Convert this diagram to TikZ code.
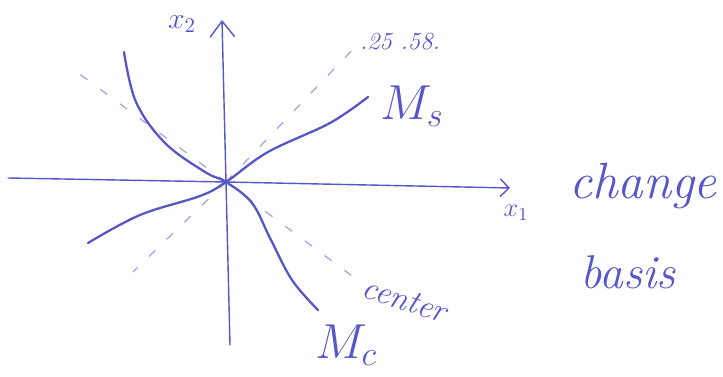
\documentclass[tikz,border=0pt]{standalone}
\usepackage{fix-cm}
\usepackage{tikz}
\usetikzlibrary{arrows.meta}
\definecolor{inkblue}{HTML}{5656C8}

\begin{document}
\begin{tikzpicture}[
    x=0.02cm, y=-0.02cm,
    pen/.style={draw=inkblue, line width=1.3pt, line cap=round, line join=round},
    axis/.style={draw=inkblue, line width=0.8pt, line cap=round},
    guide/.style={draw=inkblue!55, line width=0.7pt, dash pattern=on 5pt off 9pt},
    hand/.style={text=inkblue, inner sep=0pt, font=\fontsize{#1}{#1}\selectfont\itshape},
    hand/.default=20
]
    \useasboundingbox (0,0) rectangle (723,377);

    % --- Axes ---
    \coordinate (O) at (226,182);
    \coordinate (xleft) at (8,178);
    \coordinate (xright) at (510,188);
    \coordinate (ybottom) at (230,345);
    \coordinate (ytop) at (222,20);

    \draw[axis, -{Straight Barb[length=5pt, width=10pt, line width=0.8pt]}] (xleft) -- (O) -- (xright);
    \draw[axis, -{Straight Barb[length=9pt, width=14pt, line width=0.8pt]}] (ybottom) -- (O) -- (ytop);

    \node[hand=17] (x2) at (182,24) {$x_2$};
    \node[hand=15] (x1) at (516,213) {$x_1$};

    % --- Directions (dashed) ---
    \draw[guide] (O) -- (133,272);
    \draw[guide] (O) -- (357,45);
    \draw[guide] (O) -- (70,67);
    \draw[guide] (O) -- (352,276);

    \node[hand=14] (dir) at (400,42) {.25 .58.};
    \node[hand=19, rotate=-18] (center) at (405,300) {center};

    % --- Manifolds ---
    \draw[pen] plot[smooth, tension=0.6] coordinates {(88,243) (140,215) (200,196) (O) (268,152) (330,123) (368,97)};
    \draw[pen] plot[smooth, tension=0.6] coordinates {(124,52) (136,102) (165,143) (205,172) (O) (252,203) (270,238) (292,280) (318,310)};

    \node[hand=28] (Ms) at (412,106) {$M_s$};
    \node[hand=28] (Mc) at (346,345) {$M_c$};

    % --- Note ---
    \node[hand=29] (change) at (643,186) {change};
    \node[hand=27] (basis) at (628,272) {basis};
\end{tikzpicture}
\end{document}
